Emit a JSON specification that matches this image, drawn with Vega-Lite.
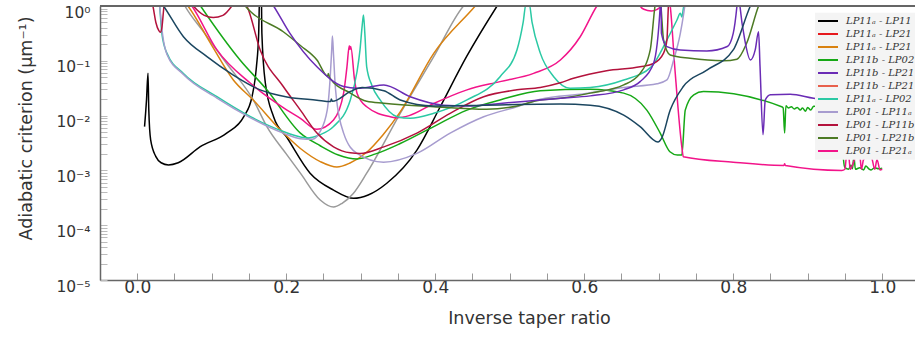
{
"$schema": "https://vega.github.io/schema/vega-lite/v6.json",
"width": 815, "height": 274,
"autosize": {"type": "none"},
"padding": {"left": 100, "top": 6, "right": 0, "bottom": 63},
"config": {"view": {"stroke": null}, "font": "DejaVu Sans"},
"datasets": {"d": [
{"s":"k1","x":0.0098,"y":0.0063},{"s":"k1","x":0.0125,"y":0.02},{"s":"k1","x":0.0144,"y":0.0592},{"s":"k1","x":0.0155,"y":0.0126},{"s":"k1","x":0.018,"y":0.00359},{"s":"k1","x":0.025,"y":0.00178},{"s":"k1","x":0.032,"y":0.00138},{"s":"k1","x":0.042,"y":0.00126},{"s":"k1","x":0.055,"y":0.00138},{"s":"k1","x":0.0846,"y":0.00271},{"s":"k1","x":0.12,"y":0.00479},{"s":"k1","x":0.143,"y":0.00955},{"s":"k1","x":0.154,"y":0.0221},{"s":"k1","x":0.16,"y":0.0782},{"s":"k1","x":0.163,"y":0.316},{"s":"k1","x":0.1645,"y":2},{"s":"k1","x":0.1665,"y":2},{"s":"k1","x":0.1673,"y":0.316},{"s":"k1","x":0.172,"y":0.0389},{"s":"k1","x":0.183,"y":0.00955},{"s":"k1","x":0.201,"y":0.00398},{"s":"k1","x":0.232,"y":0.000891},{"s":"k1","x":0.2635,"y":0.000437},{"s":"k1","x":0.2904,"y":0.000309},{"s":"k1","x":0.31,"y":0.000355},{"s":"k1","x":0.335,"y":0.000582},{"s":"k1","x":0.3754,"y":0.00234},{"s":"k1","x":0.4067,"y":0.0145},{"s":"k1","x":0.442,"y":0.119},{"s":"k1","x":0.483,"y":1.0},{"s":"k1","x":0.49,"y":1.41},
{"s":"k12","x":0.06,"y":1.26},{"s":"k12","x":0.064,"y":1.0},{"s":"k12","x":0.09,"y":0.324},{"s":"k12","x":0.12,"y":0.0891},{"s":"k12","x":0.156,"y":0.0191},{"s":"k12","x":0.174,"y":0.00631},{"s":"k12","x":0.2,"y":0.002},{"s":"k12","x":0.219,"y":0.000891},{"s":"k12","x":0.2456,"y":0.000288},{"s":"k12","x":0.2635,"y":0.000214},{"s":"k12","x":0.275,"y":0.000251},{"s":"k12","x":0.29,"y":0.00038},{"s":"k12","x":0.308,"y":0.000891},{"s":"k12","x":0.353,"y":0.011},{"s":"k12","x":0.398,"y":0.119},{"s":"k12","x":0.438,"y":1.0},{"s":"k12","x":0.445,"y":1.26},
{"s":"k3","x":0.062,"y":1.26},{"s":"k3","x":0.068,"y":1.0},{"s":"k3","x":0.1,"y":0.191},{"s":"k3","x":0.129,"y":0.0447},{"s":"k3","x":0.156,"y":0.0191},{"s":"k3","x":0.192,"y":0.0055},{"s":"k3","x":0.219,"y":0.00251},{"s":"k3","x":0.2456,"y":0.00145},{"s":"k3","x":0.268,"y":0.00115},{"s":"k3","x":0.285,"y":0.00135},{"s":"k3","x":0.308,"y":0.00214},{"s":"k3","x":0.33,"y":0.00447},{"s":"k3","x":0.353,"y":0.0117},{"s":"k3","x":0.398,"y":0.137},{"s":"k3","x":0.4537,"y":1.0},{"s":"k3","x":0.46,"y":1.26},
{"s":"k4","x":0.08,"y":1.26},{"s":"k4","x":0.085,"y":1.0},{"s":"k4","x":0.138,"y":0.1035},{"s":"k4","x":0.174,"y":0.0295},{"s":"k4","x":0.219,"y":0.00479},{"s":"k4","x":0.2456,"y":0.00282},{"s":"k4","x":0.27,"y":0.00191},{"s":"k4","x":0.295,"y":0.00162},{"s":"k4","x":0.32,"y":0.002},{"s":"k4","x":0.353,"y":0.00309},{"s":"k4","x":0.398,"y":0.00631},{"s":"k4","x":0.4426,"y":0.0126},{"s":"k4","x":0.487,"y":0.0193},{"s":"k4","x":0.541,"y":0.0285},{"s":"k4","x":0.608,"y":0.0302},{"s":"k4","x":0.653,"y":0.0257},{"s":"k4","x":0.684,"y":0.0126},{"s":"k4","x":0.702,"y":0.00479},{"s":"k4","x":0.715,"y":0.00219},{"s":"k4","x":0.725,"y":0.00191},{"s":"k4","x":0.731,"y":0.00191},{"s":"k4","x":0.7356,"y":0.0126},{"s":"k4","x":0.747,"y":0.024},{"s":"k4","x":0.76,"y":0.0275},{"s":"k4","x":0.865,"y":0.0145},{"s":"k4","x":0.867,"y":0.0138},{"s":"k4","x":0.869,"y":0.00479},{"s":"k4","x":0.8707,"y":0.0151},{"s":"k4","x":0.874,"y":0.0138},{"s":"k4","x":0.878,"y":0.0145},{"s":"k4","x":0.882,"y":0.0132},{"s":"k4","x":0.886,"y":0.0141},{"s":"k4","x":0.89,"y":0.0126},{"s":"k4","x":0.893,"y":0.0138},{"s":"k4","x":0.897,"y":0.012},{"s":"k4","x":0.9,"y":0.0141},{"s":"k4","x":0.904,"y":0.0126},{"s":"k4","x":0.908,"y":0.0148},{"s":"k4","x":0.93,"y":0.0132},{"s":"k4","x":0.946,"y":0.0126},{"s":"k4","x":0.948,"y":0.00158},{"s":"k4","x":0.95,"y":0.00112},{"s":"k4","x":0.955,"y":0.00105},{"s":"k4","x":0.958,"y":0.00126},{"s":"k4","x":0.96,"y":0.00107},{"s":"k4","x":0.962,"y":0.00178},{"s":"k4","x":0.964,"y":0.00105},{"s":"k4","x":0.97,"y":0.00112},{"s":"k4","x":0.975,"y":0.00102},{"s":"k4","x":0.978,"y":0.0012},{"s":"k4","x":0.982,"y":0.00107},{"s":"k4","x":0.985,"y":0.00102},{"s":"k4","x":0.99,"y":0.00112},{"s":"k4","x":0.995,"y":0.00107},{"s":"k4","x":1.0,"y":0.0011},
{"s":"k11","x":0.068,"y":1.26},{"s":"k11","x":0.0734,"y":1.0},{"s":"k11","x":0.107,"y":0.158},{"s":"k11","x":0.152,"y":0.0389},{"s":"k11","x":0.201,"y":0.0126},{"s":"k11","x":0.219,"y":0.00891},{"s":"k11","x":0.241,"y":0.00562},{"s":"k11","x":0.2635,"y":0.00832},{"s":"k11","x":0.277,"y":0.0257},{"s":"k11","x":0.2815,"y":0.0776},{"s":"k11","x":0.2846,"y":0.189},{"s":"k11","x":0.2856,"y":0.16},{"s":"k11","x":0.2866,"y":0.182},{"s":"k11","x":0.2917,"y":0.0447},{"s":"k11","x":0.295,"y":0.0257},{"s":"k11","x":0.308,"y":0.0145},{"s":"k11","x":0.3396,"y":0.00955},{"s":"k11","x":0.3486,"y":0.00912},{"s":"k11","x":0.365,"y":0.01},{"s":"k11","x":0.398,"y":0.0166},{"s":"k11","x":0.4426,"y":0.0295},{"s":"k11","x":0.487,"y":0.0417},{"s":"k11","x":0.532,"y":0.0589},{"s":"k11","x":0.568,"y":0.1035},{"s":"k11","x":0.5946,"y":0.275},{"s":"k11","x":0.617,"y":1.0},{"s":"k11","x":0.625,"y":1.41},{"s":"k11","x":0.67,"y":1.41},{"s":"k11","x":0.675,"y":1.0},{"s":"k11","x":0.68,"y":0.871},{"s":"k11","x":0.69,"y":0.813},{"s":"k11","x":0.698,"y":0.871},{"s":"k11","x":0.703,"y":1.0},{"s":"k11","x":0.708,"y":1.58},{"s":"k11","x":0.712,"y":1.58},{"s":"k11","x":0.7154,"y":1.0},{"s":"k11","x":0.7215,"y":0.0776},{"s":"k11","x":0.731,"y":0.00269},{"s":"k11","x":0.733,"y":0.00178},{"s":"k11","x":0.8,"y":0.00141},{"s":"k11","x":0.868,"y":0.00123},{"s":"k11","x":0.869,"y":0.00132},{"s":"k11","x":0.87,"y":0.00123},{"s":"k11","x":0.9458,"y":0.001},{"s":"k11","x":0.95,"y":0.00105},{"s":"k11","x":0.952,"y":0.00178},{"s":"k11","x":0.955,"y":0.00182},{"s":"k11","x":0.957,"y":0.00105},{"s":"k11","x":0.965,"y":0.00178},{"s":"k11","x":0.97,"y":0.00182},{"s":"k11","x":0.972,"y":0.00105},{"s":"k11","x":0.975,"y":0.00158},{"s":"k11","x":0.98,"y":0.00178},{"s":"k11","x":0.985,"y":0.00182},{"s":"k11","x":0.99,"y":0.00105},{"s":"k11","x":0.993,"y":0.00158},{"s":"k11","x":0.997,"y":0.00102},{"s":"k11","x":1.0,"y":0.00105},
{"s":"k7","x":0.029,"y":1.26},{"s":"k7","x":0.03,"y":1.0},{"s":"k7","x":0.033,"y":0.316},{"s":"k7","x":0.0398,"y":0.138},{"s":"k7","x":0.062,"y":0.0589},{"s":"k7","x":0.107,"y":0.0221},{"s":"k7","x":0.152,"y":0.00955},{"s":"k7","x":0.196,"y":0.00513},{"s":"k7","x":0.219,"y":0.00407},{"s":"k7","x":0.2278,"y":0.00389},{"s":"k7","x":0.245,"y":0.00447},{"s":"k7","x":0.2635,"y":0.00631},{"s":"k7","x":0.286,"y":0.0193},{"s":"k7","x":0.295,"y":0.0631},{"s":"k7","x":0.299,"y":0.158},{"s":"k7","x":0.302,"y":0.447},{"s":"k7","x":0.3037,"y":0.685},{"s":"k7","x":0.3055,"y":0.316},{"s":"k7","x":0.308,"y":0.0776},{"s":"k7","x":0.315,"y":0.0355},{"s":"k7","x":0.326,"y":0.0193},{"s":"k7","x":0.3486,"y":0.00955},{"s":"k7","x":0.3664,"y":0.00891},{"s":"k7","x":0.398,"y":0.011},{"s":"k7","x":0.4426,"y":0.0193},{"s":"k7","x":0.487,"y":0.0513},{"s":"k7","x":0.5097,"y":0.158},{"s":"k7","x":0.518,"y":0.501},{"s":"k7","x":0.522,"y":1.12},{"s":"k7","x":0.526,"y":1.12},{"s":"k7","x":0.53,"y":0.501},{"s":"k7","x":0.541,"y":0.138},{"s":"k7","x":0.559,"y":0.0513},{"s":"k7","x":0.581,"y":0.0316},{"s":"k7","x":0.608,"y":0.0327},{"s":"k7","x":0.653,"y":0.0447},{"s":"k7","x":0.69,"y":0.0776},{"s":"k7","x":0.711,"y":0.24},{"s":"k7","x":0.7245,"y":0.556},{"s":"k7","x":0.729,"y":0.735},{"s":"k7","x":0.731,"y":0.631},{"s":"k7","x":0.733,"y":0.891},{"s":"k7","x":0.735,"y":1.26},
{"s":"k8","x":0.029,"y":1.26},{"s":"k8","x":0.03,"y":1.0},{"s":"k8","x":0.034,"y":0.302},{"s":"k8","x":0.0398,"y":0.132},{"s":"k8","x":0.062,"y":0.0562},{"s":"k8","x":0.107,"y":0.0209},{"s":"k8","x":0.152,"y":0.00912},{"s":"k8","x":0.196,"y":0.00479},{"s":"k8","x":0.219,"y":0.0038},{"s":"k8","x":0.235,"y":0.00372},{"s":"k8","x":0.245,"y":0.00501},{"s":"k8","x":0.255,"y":0.0126},{"s":"k8","x":0.259,"y":0.0501},{"s":"k8","x":0.261,"y":0.158},{"s":"k8","x":0.262,"y":0.284},{"s":"k8","x":0.2635,"y":0.126},{"s":"k8","x":0.266,"y":0.0316},{"s":"k8","x":0.277,"y":0.00479},{"s":"k8","x":0.295,"y":0.00204},{"s":"k8","x":0.3306,"y":0.00141},{"s":"k8","x":0.3754,"y":0.00204},{"s":"k8","x":0.42,"y":0.00479},{"s":"k8","x":0.465,"y":0.00955},{"s":"k8","x":0.5097,"y":0.0145},{"s":"k8","x":0.541,"y":0.02},{"s":"k8","x":0.6,"y":0.0251},{"s":"k8","x":0.653,"y":0.0327},{"s":"k8","x":0.6976,"y":0.038},{"s":"k8","x":0.711,"y":0.0447},{"s":"k8","x":0.72,"y":0.1035},{"s":"k8","x":0.729,"y":0.316},{"s":"k8","x":0.7336,"y":0.741},{"s":"k8","x":0.736,"y":1.26},
{"s":"k9","x":0.019,"y":1.26},{"s":"k9","x":0.021,"y":1.0},{"s":"k9","x":0.025,"y":0.501},{"s":"k9","x":0.029,"y":0.355},{"s":"k9","x":0.031,"y":0.331},{"s":"k9","x":0.033,"y":0.398},{"s":"k9","x":0.036,"y":1.0},{"s":"k9","x":0.038,"y":1.26},{"s":"k9","x":0.07,"y":1.26},{"s":"k9","x":0.0755,"y":1.0},{"s":"k9","x":0.09,"y":0.676},{"s":"k9","x":0.102,"y":0.617},{"s":"k9","x":0.115,"y":0.676},{"s":"k9","x":0.127,"y":1.0},{"s":"k9","x":0.132,"y":1.26},{"s":"k9","x":0.14,"y":1.26},{"s":"k9","x":0.147,"y":1.0},{"s":"k9","x":0.165,"y":0.158},{"s":"k9","x":0.196,"y":0.0339},{"s":"k9","x":0.219,"y":0.0126},{"s":"k9","x":0.2412,"y":0.00479},{"s":"k9","x":0.2635,"y":0.00269},{"s":"k9","x":0.286,"y":0.00209},{"s":"k9","x":0.299,"y":0.00204},{"s":"k9","x":0.331,"y":0.00269},{"s":"k9","x":0.3754,"y":0.00479},{"s":"k9","x":0.42,"y":0.011},{"s":"k9","x":0.465,"y":0.0221},{"s":"k9","x":0.5097,"y":0.0295},{"s":"k9","x":0.541,"y":0.0327},{"s":"k9","x":0.568,"y":0.0398},{"s":"k9","x":0.5856,"y":0.0479},{"s":"k9","x":0.63,"y":0.0661},{"s":"k9","x":0.675,"y":0.0776},{"s":"k9","x":0.693,"y":0.0891},{"s":"k9","x":0.7065,"y":0.138},{"s":"k9","x":0.711,"y":0.24},{"s":"k9","x":0.713,"y":1.0},{"s":"k9","x":0.715,"y":1.58},
{"s":"k10","x":0.14,"y":1.26},{"s":"k10","x":0.145,"y":1.0},{"s":"k10","x":0.152,"y":0.794},{"s":"k10","x":0.196,"y":0.339},{"s":"k10","x":0.219,"y":0.19},{"s":"k10","x":0.2412,"y":0.1035},{"s":"k10","x":0.2555,"y":0.0525},{"s":"k10","x":0.2565,"y":0.0589},{"s":"k10","x":0.258,"y":0.05},{"s":"k10","x":0.286,"y":0.0257},{"s":"k10","x":0.308,"y":0.0182},{"s":"k10","x":0.331,"y":0.0168},{"s":"k10","x":0.398,"y":0.0145},{"s":"k10","x":0.469,"y":0.013},{"s":"k10","x":0.51,"y":0.015},{"s":"k10","x":0.541,"y":0.0193},{"s":"k10","x":0.568,"y":0.0207},{"s":"k10","x":0.608,"y":0.0257},{"s":"k10","x":0.653,"y":0.0363},{"s":"k10","x":0.675,"y":0.0589},{"s":"k10","x":0.6886,"y":0.158},{"s":"k10","x":0.695,"y":1.0},{"s":"k10","x":0.699,"y":2},{"s":"k10","x":0.701,"y":2},{"s":"k10","x":0.703,"y":1.0},{"s":"k10","x":0.7065,"y":0.24},{"s":"k10","x":0.7154,"y":0.128},{"s":"k10","x":0.742,"y":0.111},{"s":"k10","x":0.787,"y":0.1},{"s":"k10","x":0.805,"y":0.107},{"s":"k10","x":0.818,"y":0.209},{"s":"k10","x":0.834,"y":1.0},{"s":"k10","x":0.84,"y":1.58},
{"s":"k5","x":0.178,"y":1.26},{"s":"k5","x":0.183,"y":1.0},{"s":"k5","x":0.205,"y":0.316},{"s":"k5","x":0.2412,"y":0.0776},{"s":"k5","x":0.277,"y":0.0339},{"s":"k5","x":0.295,"y":0.0316},{"s":"k5","x":0.308,"y":0.0327},{"s":"k5","x":0.331,"y":0.0363},{"s":"k5","x":0.3664,"y":0.0221},{"s":"k5","x":0.411,"y":0.0155},{"s":"k5","x":0.4426,"y":0.015},{"s":"k5","x":0.487,"y":0.0167},{"s":"k5","x":0.541,"y":0.0193},{"s":"k5","x":0.568,"y":0.0207},{"s":"k5","x":0.608,"y":0.0229},{"s":"k5","x":0.653,"y":0.0295},{"s":"k5","x":0.675,"y":0.0417},{"s":"k5","x":0.693,"y":0.0891},{"s":"k5","x":0.702,"y":1.0},{"s":"k5","x":0.703,"y":2},{"s":"k5","x":0.7036,"y":0.316},{"s":"k5","x":0.711,"y":0.182},{"s":"k5","x":0.729,"y":0.158},{"s":"k5","x":0.7646,"y":0.151},{"s":"k5","x":0.792,"y":0.182},{"s":"k5","x":0.8,"y":0.316},{"s":"k5","x":0.805,"y":1.0},{"s":"k5","x":0.807,"y":2},{"s":"k5","x":0.809,"y":1.0},{"s":"k5","x":0.8155,"y":0.24},{"s":"k5","x":0.823,"y":0.1035},{"s":"k5","x":0.8295,"y":0.158},{"s":"k5","x":0.834,"y":0.339},{"s":"k5","x":0.836,"y":0.0776},{"s":"k5","x":0.84,"y":0.00447},{"s":"k5","x":0.843,"y":0.0193},{"s":"k5","x":0.85,"y":0.024},{"s":"k5","x":0.8765,"y":0.0245},{"s":"k5","x":0.908,"y":0.0207},{"s":"k5","x":0.93,"y":0.019},
{"s":"k13","x":0.03,"y":1.26},{"s":"k13","x":0.0353,"y":1.0},{"s":"k13","x":0.062,"y":0.275},{"s":"k13","x":0.0936,"y":0.119},{"s":"k13","x":0.129,"y":0.055},{"s":"k13","x":0.165,"y":0.0295},{"s":"k13","x":0.201,"y":0.0219},{"s":"k13","x":0.2412,"y":0.0191},{"s":"k13","x":0.2595,"y":0.018},{"s":"k13","x":0.2605,"y":0.02},{"s":"k13","x":0.262,"y":0.0182},{"s":"k13","x":0.286,"y":0.0275},{"s":"k13","x":0.302,"y":0.0324},{"s":"k13","x":0.331,"y":0.0285},{"s":"k13","x":0.353,"y":0.0193},{"s":"k13","x":0.398,"y":0.015},{"s":"k13","x":0.465,"y":0.0155},{"s":"k13","x":0.568,"y":0.0162},{"s":"k13","x":0.608,"y":0.0155},{"s":"k13","x":0.653,"y":0.0102},{"s":"k13","x":0.675,"y":0.00631},{"s":"k13","x":0.699,"y":0.00331},{"s":"k13","x":0.704,"y":0.00389},{"s":"k13","x":0.7154,"y":0.0126},{"s":"k13","x":0.733,"y":0.0339},{"s":"k13","x":0.7646,"y":0.0676},{"s":"k13","x":0.8,"y":0.158},{"s":"k13","x":0.823,"y":1.0},{"s":"k13","x":0.83,"y":1.58}
]},
"data": {"name": "d"},
"layer": [
{"mark": {"type": "line", "clip": true, "strokeWidth": 1.5, "interpolate": "monotone"},
 "encoding": {
  "x": {"field": "x", "type": "quantitative",
   "scale": {"domain": [-0.05, 1.044], "nice": false, "zero": false},
   "axis": {"values": [0,0.05,0.1,0.15,0.2,0.25,0.3,0.35,0.4,0.45,0.5,0.55,0.6,0.65,0.7,0.75,0.8,0.85,0.9,0.95,1.0],
    "labelExpr": "abs(datum.value*5 - round(datum.value*5)) < 0.001 ? format(datum.value, '.1f') : ''",
    "labelOverlap": false, "labelFlush": false,
    "tickSize": -7, "tickColor": "#999", "domainColor": "#666", "domainWidth": 1.5,
    "labelFontSize": 17, "labelColor": "#333", "labelPadding": 6,
    "title": "Inverse taper ratio", "titleFontSize": 17.5, "titleFontWeight": "normal", "titleColor": "#333", "titlePadding": 14, "titleX": 429, "grid": false}},
  "y": {"field": "y", "type": "quantitative",
   "scale": {"type": "log", "domain": [0.00001, 1], "nice": false},
   "axis": {"values": [0.00001,0.00002,0.00003,0.00004,0.00005,0.00006,0.00007,0.00008,0.00009,0.0001,0.0002,0.0003,0.0004,0.0005,0.0006,0.0007,0.0008,0.0009,0.001,0.002,0.003,0.004,0.005,0.006,0.007,0.008,0.009,0.01,0.02,0.03,0.04,0.05,0.06,0.07,0.08,0.09,0.1,0.2,0.3,0.4,0.5,0.6,0.7,0.8,0.9,1],
    "labelExpr": "datum.value == 1 ? '10⁰' : datum.value == 0.1 ? '10⁻¹' : datum.value == 0.01 ? '10⁻²' : datum.value == 0.001 ? '10⁻³' : datum.value == 0.0001 ? '10⁻⁴' : datum.value == 0.00001 ? '10⁻⁵' : ''",
    "labelOverlap": false, "labelFlush": false, "labelOffset": 6,
    "tickSize": -7, "tickColor": "#bbb", "domainColor": "#666", "domainWidth": 1.5,
    "labelFontSize": 15.5, "labelColor": "#333", "labelPadding": 17,
    "title": "Adiabatic criterion (μm⁻¹)", "titleFontSize": 17.5, "titleFontWeight": "normal", "titleColor": "#333", "titlePadding": 20, "titleY": 122, "grid": false}},
  "color": {"field": "s", "type": "nominal",
   "scale": {"domain": ["k1","k2","k3","k4","k5","k6","k7","k8","k9","k10","k11","k12","k13"],
     "range": ["#000000","#e6191e","#d98210","#16a816","#6a2cb5","#e8604c","#2bc9a4","#a79ccf","#b3123c","#4c7a24","#f2148a","#9a9a9a","#1b4660"]},
   "legend": {"orient": "none", "legendX": 715, "legendY": 6.7, "title": null,
     "values": ["k1","k2","k3","k4","k5","k6","k7","k8","k9","k10","k11"],
     "labelExpr": "datum.label == 'k1' ? 'LP11ₐ - LP11' : datum.label == 'k2' ? 'LP11ₐ - LP21' : datum.label == 'k3' ? 'LP11ₐ - LP21' : datum.label == 'k4' ? 'LP11b - LP02' : datum.label == 'k5' ? 'LP11b - LP21' : datum.label == 'k6' ? 'LP11b - LP21' : datum.label == 'k7' ? 'LP11ₐ - LP02' : datum.label == 'k8' ? 'LP01 - LP11ₐ' : datum.label == 'k9' ? 'LP01 - LP11b' : datum.label == 'k10' ? 'LP01 - LP21b' : 'LP01 - LP21ₐ'",
     "symbolType": "stroke", "symbolStrokeWidth": 2, "symbolSize": 400,
     "labelFont": "DejaVu Serif", "labelFontStyle": "italic", "labelFontSize": 10, "labelColor": "#333", "labelOffset": 7,
     "clipHeight": 12.8, "fillColor": "#f4f4f4", "padding": 2, "rowPadding": 0, "labelLimit": 200}}
 }},
{"mark": {"type": "rule", "color": "#666", "strokeWidth": 1.5}, "encoding": {"y": {"datum": 1}}}
]
}
